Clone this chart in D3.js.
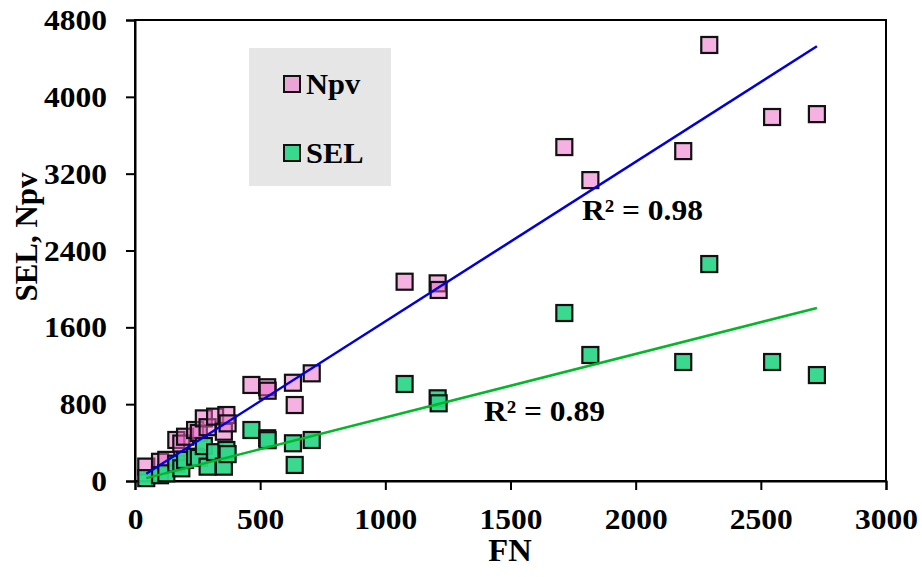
<!DOCTYPE html>
<html>
<head>
<meta charset="utf-8">
<script src="https://cdn.jsdelivr.net/npm/d3@7/dist/d3.min.js"></script>
<style>
  html, body { margin: 0; padding: 0; background: #fff; }
  svg { display: block; }
  text { font-family: "Liberation Serif", "Times New Roman", serif; font-weight: bold; fill: #000; }
</style>
</head>
<body>
<svg id="chart" width="922" height="577"></svg>
<script>
// Flow number (FN) shared by both series
const fn = [45, 100, 125, 165, 185, 200, 240, 255, 275, 290, 320, 355, 365, 370,
            465, 528, 530, 631, 638, 706, 1077, 1209, 1213, 1715, 1819, 2190, 2294, 2545, 2724];
// Npv values
const npv = [150, 200, 220, 427, 390, 461, 531, 500, 652, 560, 670, 513, 687, 600,
             1000, 976, 940, 1023, 791, 1121, 2075, 2058, 1989, 3477, 3133, 3435, 4540, 3790, 3820];
// SEL values
const sel = [30, 60, 80, 180, 132, 219, 253, 240, 364, 149, 300, 149, 323, 280,
             531, 445, 425, 393, 167, 427, 1010, 861, 809, 1749, 1312, 1239, 2259, 1239, 1103];

const xTicks = [0, 500, 1000, 1500, 2000, 2500, 3000];
const yTicks = [0, 800, 1600, 2400, 3200, 4000, 4800];
const seriesNames = ["Npv", "SEL"];
const r2Labels = ["R\u00B2 = 0.98", "R\u00B2 = 0.89"];

const colors = {
  Npv: { fill: "rgb(238,100,200)", opacity: 0.5, line: "#0000dd" },
  SEL: { fill: "rgb(48,214,138)", opacity: 0.95, line: "#00b828" }
};

const svg = d3.select("#chart");
const pLeft = 135, pRight = 886, pTop = 20, pBottom = 481;
const sx = 1.05; // horizontal text stretch

const x = d3.scaleLinear().domain([0, 3000]).range([pLeft, pRight]);
const y = d3.scaleLinear().domain([0, 4800]).range([pBottom, pTop]);

// plot frame
svg.append("rect")
  .attr("x", pLeft).attr("y", pTop)
  .attr("width", pRight - pLeft).attr("height", pBottom - pTop)
  .attr("fill", "none").attr("stroke", "#000").attr("stroke-width", 2);

// axes
const gx = svg.append("g").attr("transform", `translate(0,${pBottom})`)
  .call(d3.axisBottom(x).tickValues(xTicks).tickSize(9).tickPadding(18).tickFormat(d3.format("d")));
const gy = svg.append("g").attr("transform", `translate(${pLeft},0)`)
  .call(d3.axisLeft(y).tickValues(yTicks).tickSize(9).tickPadding(19).tickFormat(d3.format("d")));
[gx, gy].forEach(g => {
  g.select(".domain").attr("stroke", "#000").attr("stroke-width", 2);
  g.selectAll(".tick line").attr("stroke", "#000").attr("stroke-width", 2);
  g.selectAll(".tick text")
    .style("font-family", '"Liberation Serif", "Times New Roman", serif')
    .style("font-weight", "bold").style("font-size", "30px").attr("fill", "#000");
});
gx.selectAll(".tick text").attr("transform", `scale(${sx},1)`);
gy.selectAll(".tick text").attr("x", -28 / sx).attr("transform", `scale(${sx},1)`);

// axis titles
svg.append("text")
  .attr("transform", `translate(510,561) scale(${sx},1)`)
  .attr("text-anchor", "middle").style("font-size", "31px").text("FN");
svg.append("text")
  .attr("transform", `translate(37,237) rotate(-90) scale(1,${sx})`)
  .attr("text-anchor", "middle").style("font-size", "31px").text("SEL, Npv");

// scatter markers
const ms = 16;
const seriesData = [
  { name: "Npv", values: npv },
  { name: "SEL", values: sel }
];
seriesData.forEach(s => {
  const c = colors[s.name];
  svg.append("g").selectAll("rect")
    .data(fn.map((f, i) => [f, s.values[i]]))
    .join("rect")
    .attr("x", d => x(d[0]) - ms / 2)
    .attr("y", d => y(d[1]) - ms / 2)
    .attr("width", ms).attr("height", ms)
    .attr("fill", c.fill).attr("fill-opacity", c.opacity)
    .attr("stroke", "#111").attr("stroke-width", 2.2);
});

// linear trendlines, least squares with the intercept set to zero, over the FN range
function fitThroughOrigin(xs, ys) {
  let sxy = 0, sxx = 0;
  xs.forEach((v, i) => { sxy += v * ys[i]; sxx += v * v; });
  return sxy / sxx;
}
const [fmin, fmax] = d3.extent(fn);
seriesData.forEach(s => {
  const slope = fitThroughOrigin(fn, s.values);
  const pts = [fmin, fmax].map(v => [x(v), y(slope * v)]);
  svg.append("path")
    .attr("d", d3.line()(pts))
    .attr("fill", "none").attr("stroke", colors[s.name].line).attr("stroke-width", 2.5);
});

// R² labels
svg.append("text").attr("transform", `translate(582,220) scale(${sx},1)`)
  .style("font-size", "30px").text(r2Labels[0]);
svg.append("text").attr("transform", `translate(484,421) scale(${sx},1)`)
  .style("font-size", "30px").text(r2Labels[1]);

// legend
const lg = svg.append("g");
lg.append("rect").attr("x", 249).attr("y", 48).attr("width", 142).attr("height", 138)
  .attr("fill", "#e6e6e6");
seriesNames.forEach((n, i) => {
  const cy = 84 + i * 69;
  lg.append("rect").attr("x", 284).attr("y", cy - 8).attr("width", 16).attr("height", 16)
    .attr("fill", colors[n].fill).attr("fill-opacity", colors[n].opacity)
    .attr("stroke", "#111").attr("stroke-width", 2);
  lg.append("text").attr("transform", `translate(306,${cy + 10}) scale(${sx},1)`)
    .style("font-size", "29px").text(n);
});
</script>
</body>
</html>
